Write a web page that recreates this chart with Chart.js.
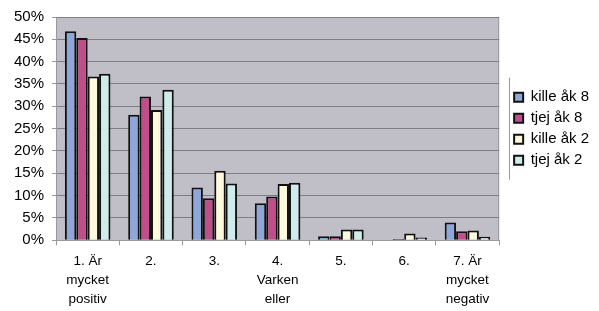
<!DOCTYPE html>
<html>
<head>
<meta charset="utf-8">
<script src="https://cdn.jsdelivr.net/npm/chart.js@4.4.1/dist/chart.umd.min.js"></script>
<style>
  html, body { margin: 0; padding: 0; background: #fff; }
  #wrap { width: 599px; height: 311px; }
</style>
</head>
<body>
<div id="wrap"><canvas id="graf" width="599" height="311"></canvas></div>
<script>
const kategorier = [
  ["1. Är", "mycket", "positiv"],
  "2.",
  "3.",
  ["4.", "Varken", "eller"],
  "5.",
  "6.",
  ["7. Är", "mycket", "negativ"]
]
const serier = ["kille åk 8", "tjej åk 8", "kille åk 2", "tjej åk 2"]
const kille8 = [46.8, 28.1, 11.8, 8.3, 0.9, 0.1, 4.0]
const tjej8 = [45.3, 32.2, 9.4, 9.8, 0.9, 0.3, 2.0]
const kille2 = [36.7, 29.2, 15.6, 12.6, 2.4, 1.5, 2.2]
const tjej2 = [37.3, 33.7, 12.7, 12.9, 2.4, 0.6, 0.8]
const farger = ["#8fa6d8", "#bf4f88", "#fdf9dc", "#cfeceb"]

const plotBakgrund = {
  id: 'plotBakgrund',
  beforeDraw(chart) {
    const a = chart.chartArea
    const ctx = chart.ctx
    ctx.save()
    ctx.fillStyle = '#c0bfc7'
    ctx.fillRect(a.left, a.top, a.right - a.left, a.bottom - a.top)
    ctx.strokeStyle = '#9a9a9e'
    ctx.lineWidth = 1
    ctx.beginPath()
    ctx.moveTo(a.left, a.top + 0.5)
    ctx.lineTo(a.right - 0.5, a.top + 0.5)
    ctx.lineTo(a.right - 0.5, a.bottom)
    ctx.stroke()
    ctx.restore()
  },
  afterDraw(chart) {
    const boxar = chart.legend.legendHitBoxes
    if (!boxar || !boxar.length) return
    const forsta = boxar[0]
    const sista = boxar[boxar.length - 1]
    const x = Math.round(forsta.left) - 4.5
    const ctx = chart.ctx
    ctx.save()
    ctx.strokeStyle = '#9a9a9e'
    ctx.lineWidth = 1
    ctx.beginPath()
    ctx.moveTo(x, forsta.top - 12)
    ctx.lineTo(x, sista.top + sista.height + 12)
    ctx.stroke()
    ctx.restore()
  }
}

function criarGraf() {
  const ctx = document.getElementById('graf').getContext('2d')
  const data = [kille8, tjej8, kille2, tjej2]

  new Chart(ctx, {
    type: 'bar',
    data: {
      labels: kategorier,
      datasets: serier.map((namn, i) => ({
        label: namn,
        data: data[i],
        backgroundColor: farger[i],
        borderColor: '#111',
        borderWidth: 2,
        categoryPercentage: 0.72,
        barPercentage: 1
      }))
    },
    options: {
      responsive: false,
      maintainAspectRatio: false,
      animation: false,
      layout: { padding: { top: -2, right: 0, left: 6, bottom: -5 } },
      plugins: {
        tooltip: { enabled: false },
        legend: {
          position: 'right',
          fullSize: false,
          labels: {
            boxWidth: 9,
            boxHeight: 9,
            padding: 6,
            color: '#000',
            font: { family: 'Liberation Sans, Arial', size: 15 }
          }
        }
      },
      scales: {
        y: {
          min: 0,
          max: 50,
          ticks: {
            stepSize: 5,
            color: '#000',
            padding: 8,
            font: { family: 'Liberation Sans, Arial', size: 15 },
            callback: function (value) {
              return value + "%"
            }
          },
          grid: { color: '#7d7d84', tickLength: 4, tickColor: '#9a9a9e' },
          border: { color: '#9a9a9e' }
        },
        luft: {
          position: 'right',
          display: true,
          grid: { display: false },
          ticks: { display: false },
          border: { display: false },
          afterFit(scale) { scale.width = 9 }
        },
        x: {
          ticks: {
            color: '#000',
            padding: 7,
            maxRotation: 0,
            autoSkip: false,
            font: { family: 'Liberation Sans, Arial', size: 13.5, lineHeight: 1.4 }
          },
          grid: { drawOnChartArea: false, tickLength: 5, color: '#9a9a9e' },
          border: { color: '#9a9a9e' }
        }
      }
    },
    plugins: [plotBakgrund]
  })
}

criarGraf()
</script>
</body>
</html>
